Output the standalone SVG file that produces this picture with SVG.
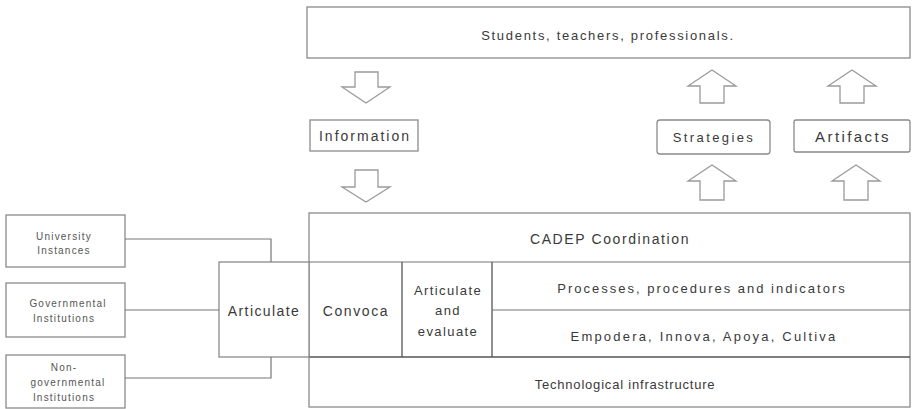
<svg xmlns="http://www.w3.org/2000/svg" width="914" height="409" viewBox="0 0 914 409">
<style>
.box{fill:#fff;stroke:#8a8a8a;stroke-width:1.3}
.div{fill:none;stroke:#555;stroke-width:1.3}
.arr{fill:#fff;stroke:#9a9a9a;stroke-width:1.3}
.ln{fill:none;stroke:#777;stroke-width:1.2}
text{font-family:"Liberation Sans",Arial,sans-serif;fill:#3a3a3a;text-anchor:middle}
.t13{font-size:13px}
.t14{font-size:14px}
.t10{font-size:10px;fill:#555;letter-spacing:1.2px}
</style>
<rect width="914" height="409" fill="#fff"/>
<g id="top">
<rect class="box" x="307" y="7" width="603" height="51"/>
<text class="t13" x="608" y="40" letter-spacing="1.7">Students, teachers, professionals.</text>
</g>
<g id="information">
<rect class="box" x="310" y="120" width="108" height="31"/>
<text class="t14" x="365" y="141" letter-spacing="2">Information</text>
</g>
<g id="strategies">
<rect class="box" x="657" y="120" width="113" height="34" rx="3"/>
<text class="t13" x="714" y="142" letter-spacing="2.4">Strategies</text>
</g>
<g id="artifacts">
<rect class="box" x="794" y="120" width="116" height="32" rx="2"/>
<text x="853" y="142" font-size="15" letter-spacing="2.4">Artifacts</text>
</g>
<g id="arrows">
<path class="arr" d="M355,72 H378 V87 H390 L366,103 L342,87 H355 Z"/>
<path class="arr" d="M355,170 H378 V187 H390 L366,202 L342,187 H355 Z"/>
<path class="arr" d="M700,103 V86 H688 L712,70 L736,86 H724 V103 Z"/>
<path class="arr" d="M840,103 V86 H828 L852,70 L876,86 H864 V103 Z"/>
<path class="arr" d="M700,200 V181 H688 L712,165 L736,181 H724 V200 Z"/>
<path class="arr" d="M844,200 V181 H832 L856,165 L880,181 H868 V200 Z"/>
</g>
<g id="main">
<rect class="box" x="309" y="213" width="601" height="194"/>
<line class="ln" x1="309" y1="262" x2="910" y2="262"/>
<line class="div" x1="309" y1="357" x2="910" y2="357"/>
<line class="div" x1="402" y1="262" x2="402" y2="357"/>
<line class="div" x1="492" y1="262" x2="492" y2="357"/>
<line class="ln" x1="492" y1="310" x2="910" y2="310"/>
</g>
<g id="cadep"><text class="t14" x="610" y="244" letter-spacing="1.6">CADEP Coordination</text></g>
<g id="convoca"><text class="t14" x="356" y="316" letter-spacing="1.6">Convoca</text></g>
<g id="articulate-evaluate">
<text class="t13" x="448" y="295" letter-spacing="1.4">Articulate</text>
<text class="t13" x="448" y="315" letter-spacing="1.4">and</text>
<text class="t13" x="448" y="336" letter-spacing="1.4">evaluate</text>
</g>
<g id="processes"><text class="t13" x="702" y="293" letter-spacing="2">Processes, procedures and indicators</text></g>
<g id="empodera"><text class="t13" x="704" y="341" letter-spacing="2.2">Empodera, Innova, Apoya, Cultiva</text></g>
<g id="tech"><text class="t13" x="625" y="389" letter-spacing="0.8">Technological infrastructure</text></g>
<g id="articulate">
<rect class="box" x="219" y="262" width="90" height="95"/>
<text class="t14" x="264" y="316" letter-spacing="1.4">Articulate</text>
</g>
<g id="university">
<rect class="box" x="6" y="215" width="119" height="52"/>
<text class="t10" x="64" y="240">University</text>
<text class="t10" x="64" y="254">Instances</text>
</g>
<g id="governmental">
<rect class="box" x="6" y="283" width="119" height="54"/>
<text class="t10" x="68" y="307">Governmental</text>
<text class="t10" x="64" y="322">Institutions</text>
</g>
<g id="nongovernmental">
<rect class="box" x="6" y="355" width="119" height="53"/>
<text class="t10" x="64" y="371">Non-</text>
<text class="t10" x="68" y="386">governmental</text>
<text class="t10" x="64" y="401">Institutions</text>
</g>
<g id="connectors">
<path class="ln" d="M125,239 H271 V262"/>
<path class="ln" d="M125,310 H219"/>
<path class="ln" d="M125,378 H271 V357"/>
</g>
</svg>
